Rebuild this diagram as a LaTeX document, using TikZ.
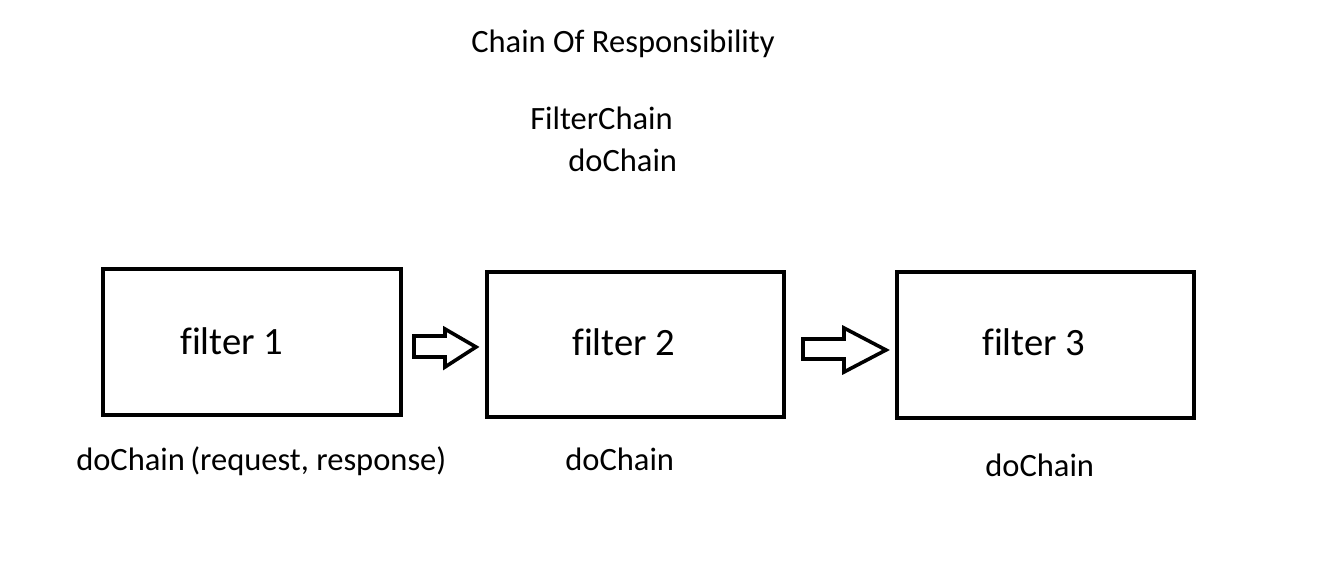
\documentclass[tikz,border=0pt]{standalone}
\usepackage{fontspec}
\setmainfont[Ligatures={NoCommon}]{Carlito}
\begin{document}
\begin{tikzpicture}[x=0.75pt,y=-0.75pt,
  box/.style={draw=black,line width=3pt,minimum width=0pt},
  lbl/.style={anchor=base west,inner sep=0pt,font=\fontsize{24.4}{29}\selectfont},
  biglbl/.style={anchor=base west,inner sep=0pt,font=\fontsize{29}{34}\selectfont},
  blockarrow/.style={draw=black,line width=2.7pt,fill=white}]
\useasboundingbox (0,0) rectangle (1319,567);
\fill[white] (0,0) rectangle (1319,567);
% boxes
\draw[box] (103,269) rectangle (401,415);
\draw[box] (487,272) rectangle (784,417);
\draw[box] (897,272) rectangle (1194,418);
% block arrows
\draw[blockarrow] (414,336) -- (445,336) -- (445,329) -- (476,347) -- (445,367) -- (445,357) -- (414,357) -- cycle;
\draw[blockarrow] (803,339) -- (844,339) -- (844,328) -- (886,350) -- (844,372) -- (844,359) -- (803,359) -- cycle;
% texts
\node[lbl] (title) at (471,53) {Chain Of Responsibility};
\node[lbl] (fc) at (530,129) {FilterChain};
\node[lbl] (dc) at (568,171) {doChain};
\node[biglbl] (f1) at (180,354) {filter 1};
\node[biglbl] (f2) at (572,355) {filter 2};
\node[biglbl] (f3) at (982,355) {filter 3};
\node[lbl] (d1) at (76,470) {doChain};
\node[lbl] (rr) at (190,470) {(request, response)};
\node[lbl] (d2) at (565,470) {doChain};
\node[lbl] (d3) at (985,476) {doChain};
\end{tikzpicture}
\end{document}
